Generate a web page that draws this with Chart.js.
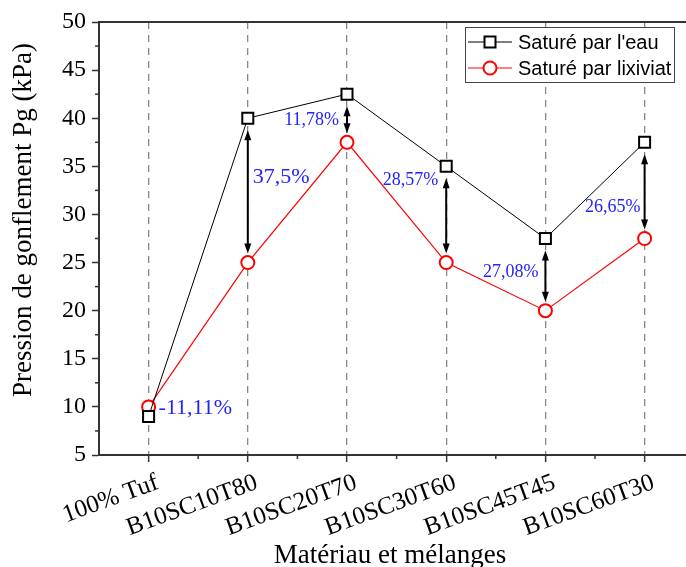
<!DOCTYPE html>
<html>
<head>
<meta charset="utf-8">
<script src="https://cdn.jsdelivr.net/npm/chart.js@4.4.1/dist/chart.umd.min.js"></script>
<style>
  html, body { margin: 0; padding: 0; overflow: hidden; background: #fff; }
  canvas { display: block; }
</style>
</head>
<body>
<canvas id="chart" width="704" height="567"></canvas>
<script>
const categories = ['100% Tuf', 'B10SC10T80', 'B10SC20T70', 'B10SC30T60', 'B10SC45T45', 'B10SC60T30']
const eau = [9, 40, 42.5, 35, 27.5, 37.5]
const lixiviat = [10, 25, 37.5, 25, 20, 27.5]
const ecarts = ['-11,11%', '37,5%', '11,78%', '28,57%', '27,08%', '26,65%']
const yMin = 5
const yMax = 50
const yStep = 5
const xTitle = 'Matériau et mélanges'
const yTitle = 'Pression de gonflement Pg (kPa)'

const serif = 'Liberation Serif'
const axisColor = '#333'

// where each percentage goes, relative to the arrow (or the point for the first one)
const labelStyle = [
  { dx: 10, dy: 1, align: 'left', size: 22, ref: 'low' },
  { dx: 5, dy: -13, align: 'left', size: 22, ref: 'mid' },
  { dx: -8, dy: 2, align: 'right', size: 18, ref: 'mid' },
  { dx: -8, dy: -34, align: 'right', size: 18, ref: 'mid' },
  { dx: -7, dy: -2, align: 'right', size: 18, ref: 'mid' },
  { dx: -4, dy: 17, align: 'right', size: 18, ref: 'mid' }
]

function doubleArrow(ctx, x, top, bottom) {
  const head = 10, half = 3.5
  ctx.beginPath()
  ctx.moveTo(x, top + head - 2)
  ctx.lineTo(x, bottom - head + 2)
  ctx.stroke()
  ctx.beginPath()
  ctx.moveTo(x, top)
  ctx.lineTo(x - half, top + head)
  ctx.lineTo(x + half, top + head)
  ctx.closePath()
  ctx.fill()
  ctx.beginPath()
  ctx.moveTo(x, bottom)
  ctx.lineTo(x - half, bottom - head)
  ctx.lineTo(x + half, bottom - head)
  ctx.closePath()
  ctx.fill()
}

const extras = {
  id: 'extras',
  afterDatasetsDraw(chart) {
    const ctx = chart.ctx
    const xs = chart.scales.x
    const ys = chart.scales.y
    ctx.save()
    ctx.strokeStyle = '#000'
    ctx.fillStyle = '#000'
    ctx.lineWidth = 2
    for (let i = 0; i < categories.length; i++) {
      const x = xs.getPixelForValue(i)
      const yHaut = ys.getPixelForValue(eau[i])
      const yBas = ys.getPixelForValue(lixiviat[i])
      if (i > 0) doubleArrow(ctx, x, yHaut + 12, yBas - 9)

      const st = labelStyle[i]
      const yRef = st.ref === 'low' ? yBas : (yHaut + yBas) / 2
      ctx.font = st.size + 'px "' + serif + '"'
      ctx.fillStyle = '#2222ff'
      ctx.textAlign = st.align
      ctx.textBaseline = 'middle'
      ctx.fillText(ecarts[i], x + st.dx, yRef + st.dy)
      ctx.fillStyle = '#000'
    }
    ctx.restore()
  },
  afterDraw(chart) {
    const ctx = chart.ctx
    const area = chart.chartArea
    const xs = chart.scales.x
    const ys = chart.scales.y
    ctx.save()

    // top frame line
    ctx.strokeStyle = axisColor
    ctx.lineWidth = 2
    ctx.beginPath()
    ctx.moveTo(area.left - 1, area.top)
    ctx.lineTo(chart.width, area.top)
    ctx.stroke()

    // minor ticks
    ctx.lineWidth = 1.5
    for (let v = yMin + yStep / 2; v < yMax; v += yStep) {
      const y = ys.getPixelForValue(v)
      ctx.beginPath()
      ctx.moveTo(area.left - 4, y)
      ctx.lineTo(area.left, y)
      ctx.stroke()
    }
    for (let i = 0; i < categories.length; i++) {
      const x = xs.getPixelForValue(i + 0.5)
      ctx.beginPath()
      ctx.moveTo(x, area.bottom)
      ctx.lineTo(x, area.bottom + 4)
      ctx.stroke()
    }

    // axis titles
    ctx.fillStyle = '#000'
    ctx.font = '27px "' + serif + '"'
    ctx.textAlign = 'center'
    ctx.textBaseline = 'middle'
    ctx.fillText(xTitle, 390, 556)
    ctx.translate(24, 220)
    ctx.rotate(-Math.PI / 2)
    ctx.fillText(yTitle, 0, 0)
    ctx.setTransform(1, 0, 0, 1, 0, 0)

    // legend
    const lx = 465.5, ly = 27.5, lw = 209, lh = 55
    ctx.fillStyle = '#fff'
    ctx.fillRect(lx, ly, lw, lh)
    ctx.strokeStyle = '#444'
    ctx.lineWidth = 1
    ctx.strokeRect(lx, ly, lw, lh)
    ctx.font = '20px "Liberation Sans"'
    ctx.textAlign = 'left'
    chart.data.datasets.forEach((ds, k) => {
      const y = 42 + k * 26
      ctx.strokeStyle = ds.borderColor
      ctx.lineWidth = ds.borderWidth
      ctx.beginPath()
      ctx.moveTo(468, y)
      ctx.lineTo(512, y)
      ctx.stroke()
      ctx.fillStyle = '#fff'
      ctx.lineWidth = 2
      ctx.beginPath()
      if (ds.pointStyle === 'rect') {
        ctx.rect(484.5, y - 5.5, 11, 11)
      } else {
        ctx.arc(490, y, 6.5, 0, Math.PI * 2)
      }
      ctx.fill()
      ctx.stroke()
      ctx.fillStyle = '#000'
      ctx.fillText(ds.label, 518, y + 1)
    })
    ctx.restore()
  }
}

new Chart(document.getElementById('chart'), {
  type: 'line',
  data: {
    labels: categories,
    datasets: [{
      label: 'Saturé par l\'eau',
      data: eau,
      borderColor: '#000',
      borderWidth: 1,
      pointStyle: 'rect',
      pointRadius: 7.8,
      pointBorderWidth: 2,
      pointBackgroundColor: '#fff',
      pointBorderColor: '#000',
      tension: 0
    }, {
      label: 'Saturé par lixiviat',
      data: lixiviat,
      borderColor: '#ff0000',
      borderWidth: 1.2,
      pointStyle: 'circle',
      pointRadius: 6.5,
      pointBorderWidth: 2,
      pointBackgroundColor: '#fff',
      pointBorderColor: '#ff0000',
      tension: 0
    }]
  },
  options: {
    responsive: false,
    animation: false,
    devicePixelRatio: 1,
    layout: { padding: { top: 22, right: 6.5, left: 0, bottom: 0 } },
    plugins: {
      legend: { display: false },
      tooltip: { enabled: false }
    },
    scales: {
      x: {
        type: 'category',
        offset: true,
        afterFit(scale) { scale.height = 112 },
        grid: {
          display: true,
          drawOnChartArea: true,
          color: '#888',
          lineWidth: 1.3,
          tickLength: 7,
          tickColor: axisColor,
          tickWidth: 1.5
        },
        border: { display: true, color: axisColor, width: 2, dash: [7, 6] },
        ticks: {
          autoSkip: false,
          minRotation: 20,
          maxRotation: 20,
          padding: 6,
          labelOffset: 9,
          color: '#000',
          font: { family: serif, size: 25 }
        }
      },
      y: {
        min: yMin,
        max: yMax,
        afterFit(scale) { scale.width = 99 },
        grid: {
          display: true,
          drawOnChartArea: false,
          tickLength: 7,
          tickColor: axisColor,
          tickWidth: 1.5
        },
        border: { display: true, color: axisColor, width: 2 },
        ticks: {
          stepSize: yStep,
          padding: 6,
          color: '#000',
          font: { family: serif, size: 24 }
        }
      }
    }
  },
  plugins: [extras]
})
</script>
</body>
</html>
